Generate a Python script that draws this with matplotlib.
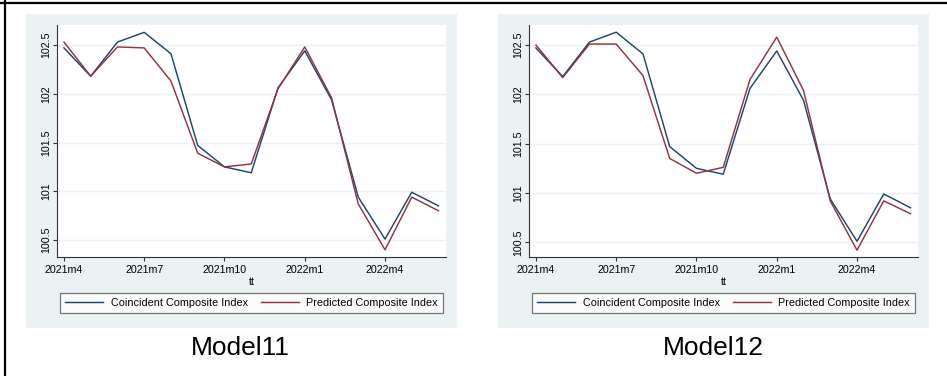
import matplotlib.pyplot as plt
from matplotlib.patches import Rectangle
from matplotlib.lines import Line2D

plt.rcParams['font.family'] = ['Liberation Sans', 'DejaVu Sans']

months = ['2021m4', '2021m5', '2021m6', '2021m7', '2021m8', '2021m9', '2021m10',
          '2021m11', '2021m12', '2022m1', '2022m2', '2022m3', '2022m4', '2022m5', '2022m6']
tick_labels = ['2021m4', '2021m7', '2021m10', '2022m1', '2022m4']

coincident = [102.47, 102.18, 102.53, 102.63, 102.41, 101.47, 101.25, 101.19,
              102.06, 102.44, 101.94, 100.94, 100.51, 100.99, 100.85]
pred_model11 = [102.53, 102.18, 102.48, 102.47, 102.13, 101.39, 101.25, 101.28,
                102.05, 102.48, 101.96, 100.87, 100.40, 100.94, 100.80]
pred_model12 = [102.50, 102.17, 102.51, 102.51, 102.19, 101.35, 101.20, 101.26,
                102.15, 102.58, 102.04, 100.92, 100.42, 100.92, 100.79]

W, H = 947, 376
BG = '#eaf2f3'
NAVY = '#1a476f'
MAROON = '#90353b'

fig = plt.figure(figsize=(W / 100, H / 100), dpi=100)


def px(x0, y0, x1, y1):
    # pixel box (top-left origin) -> figure fraction [l, b, w, h]
    return [x0 / W, 1 - y1 / H, (x1 - x0) / W, (y1 - y0) / H]


def panel(bg_box, ax_box, ylim, predicted, title, title_x):
    l, b, w, h = px(*bg_box)
    fig.patches.append(Rectangle((l, b), w, h, transform=fig.transFigure,
                                 facecolor=BG, edgecolor='none', zorder=-5))
    ax = fig.add_axes(px(*ax_box))
    x = list(range(len(months)))
    ax.plot(x, coincident, color=NAVY, lw=1.05, label='Coincident Composite Index')
    ax.plot(x, predicted, color=MAROON, lw=1.05, label='Predicted Composite Index')
    ax.set_xlim(-0.26, 14.28)
    ax.set_ylim(*ylim)
    ax.set_xticks([months.index(t) for t in tick_labels])
    ax.set_xticklabels(tick_labels)
    ax.set_yticks([100.5, 101, 101.5, 102, 102.5])
    ax.set_yticklabels(['100.5', '101', '101.5', '102', '102.5'], rotation=90, va='center')
    ax.tick_params(axis='both', labelsize=7.7, length=3, width=0.8, color='#333333')
    ax.tick_params(axis='x', pad=3)
    ax.tick_params(axis='y', pad=1.5)
    ax.yaxis.grid(True, color=BG, lw=1.0)
    ax.set_axisbelow(True)
    for s in ['top', 'right']:
        ax.spines[s].set_visible(False)
    for s in ['left', 'bottom']:
        ax.spines[s].set_color('#333333')
        ax.spines[s].set_linewidth(0.8)
    ax.set_xlabel('tt', fontsize=7.7, labelpad=1)
    cx = (ax_box[0] + ax_box[2]) / 2
    leg = ax.legend(loc='center', bbox_to_anchor=(cx / W, 1 - 303 / H),
                    bbox_transform=fig.transFigure, ncol=2, fontsize=7.8,
                    frameon=True, fancybox=False, handlelength=3.5,
                    handletextpad=0.7, borderaxespad=0, borderpad=0.45,
                    columnspacing=1.2)
    leg.get_frame().set_edgecolor('#555555')
    leg.get_frame().set_linewidth(0.9)
    fig.text(title_x / W, 1 - 348 / H, title, fontsize=19, ha='center', va='center')
    return ax


panel((26, 14, 457, 328), (57, 25, 446, 257), (100.326, 102.705),
      pred_model11, 'Model11', 240)
panel((498, 14, 929, 328), (529, 25, 918, 257), (100.351, 102.703),
      pred_model12, 'Model12', 713)

# frame lines along the top and left edge
fig.add_artist(Line2D([0, 1], [1 - 2.5 / H, 1 - 2.5 / H], color='black', lw=1.6,
                      transform=fig.transFigure))
fig.add_artist(Line2D([5 / W, 5 / W], [0, 1], color='black', lw=1.6,
                      transform=fig.transFigure))

fig.savefig('out.png', dpi=100)
